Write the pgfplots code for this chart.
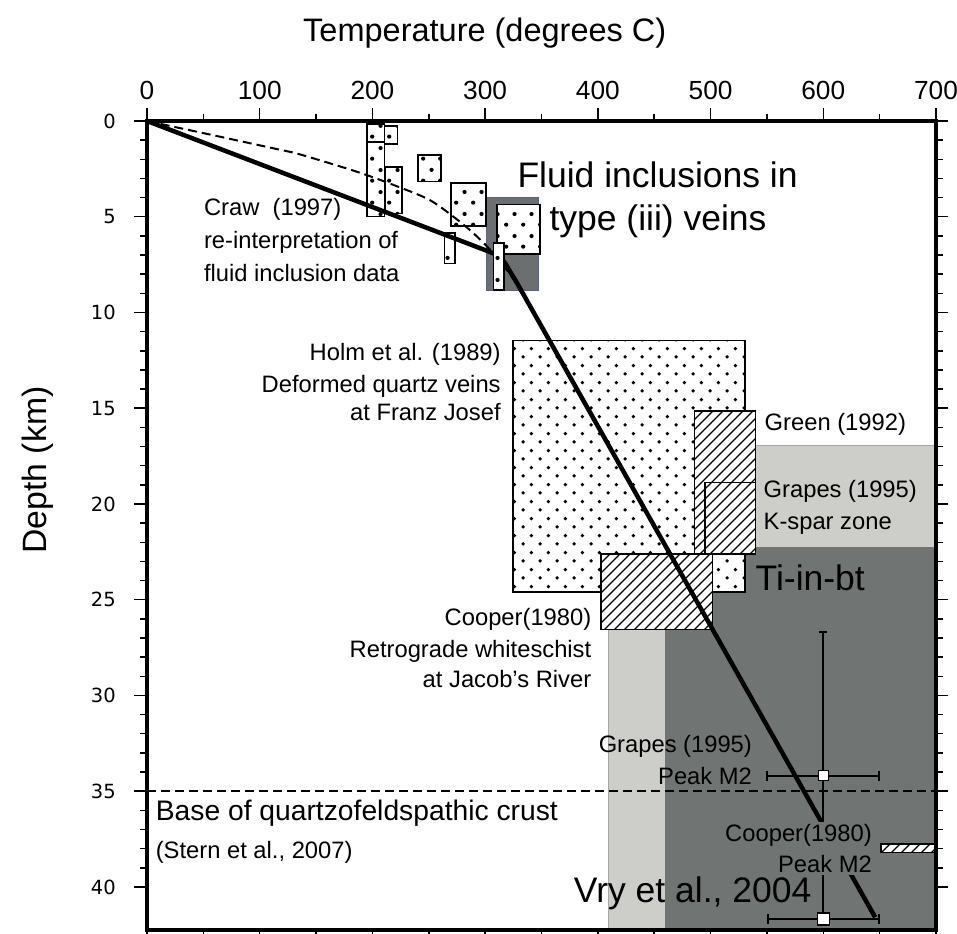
\documentclass[border=0pt]{standalone}
\usepackage{pgfplots}
\pgfplotsset{compat=1.18}
\usepackage{fontspec}
\setmainfont{Liberation Sans}
\newfontfamily\dejavu{DejaVu Sans}
\usetikzlibrary{patterns}
\definecolor{dkgray}{RGB}{112,117,115}
\definecolor{ltgray}{RGB}{205,206,202}
\definecolor{flgray}{RGB}{108,111,112}
\definecolor{flborder}{RGB}{95,95,130}

\pgfdeclarepatternformonly{mydots}{\pgfpointorigin}{\pgfqpoint{6.7pt}{6.7pt}}{\pgfqpoint{6.7pt}{6.7pt}}{%
  \pgfpathcircle{\pgfqpoint{1.675pt}{1.675pt}}{0.75pt}%
  \pgfpathcircle{\pgfqpoint{5.025pt}{5.025pt}}{0.75pt}%
  \pgfusepath{fill}}
\pgfdeclarepatternformonly{bigdots}{\pgfpointorigin}{\pgfqpoint{6.7pt}{8.8pt}}{\pgfqpoint{6.7pt}{8.8pt}}{%
  \pgfpathcircle{\pgfqpoint{1.675pt}{2.2pt}}{0.85pt}%
  \pgfpathcircle{\pgfqpoint{5.025pt}{6.6pt}}{0.85pt}%
  \pgfusepath{fill}}
\pgfdeclarepatternformonly{hatch}{\pgfqpoint{-1pt}{-1pt}}{\pgfqpoint{5pt}{5pt}}{\pgfqpoint{4pt}{4pt}}{%
  \pgfsetlinewidth{0.45pt}%
  \pgfpathmoveto{\pgfqpoint{0pt}{0pt}}%
  \pgfpathlineto{\pgfqpoint{4.1pt}{4.1pt}}%
  \pgfusepath{stroke}}

\newcommand{\rect}[5]{\addplot[#1] coordinates {(#2,#3) (#4,#3) (#4,#5) (#2,#5)} -- cycle;}
\newcommand{\seg}[4]{\addplot[black, line width=0.8pt] coordinates {(#1,#2) (#3,#4)};}

\tikzset{
  ann/.style={inner sep=0pt, text height=0.72em, text depth=0pt, font=\fontsize{9.5}{11}\selectfont},
  big/.style={inner sep=0pt, text height=0.72em, text depth=0pt, font=\fontsize{14.2}{17}\selectfont},
  dotbox/.style={draw=black, line width=0.6pt, fill=white, postaction={pattern=bigdots}},
}

\begin{document}
\begin{tikzpicture}
\useasboundingbox (-58.8pt,-1.6pt) rectangle (324pt,372pt);
\begin{axis}[
  at={(0,0)}, anchor=south west,
  scale only axis, width=315.6pt, height=323.6pt,
  xmin=0, xmax=700, ymin=0, ymax=42.25, y dir=reverse,
  xtick={0,100,...,700}, minor x tick num=1,
  ytick={0,5,...,40}, minor y tick num=4,
  xtick pos=both, ytick pos=both,
  xticklabel pos=right, yticklabel pos=left,
  tick align=outside,
  major tick length=5pt, minor tick length=2.8pt,
  axis line style={line width=1.6pt},
  every tick/.style={black, line width=0.6pt},
  axis on top,
  xticklabel style={font=\fontsize{10.5}{12}\selectfont},
  yticklabel style={font=\dejavu\fontsize{7.8}{9}\selectfont, xshift=-4pt},
  /pgf/number format/assume math mode=true,
  clip=false,
]
% background zones
\rect{fill=ltgray, draw=gray!70, line width=0.4pt}{535}{16.96}{700}{22.26}
\rect{fill=ltgray, draw=gray!70, line width=0.4pt}{409.4}{25}{459.6}{42.25}
\rect{fill=dkgray, draw=none}{459.6}{22.26}{700}{42.25}
% Holm et al. box
\rect{draw=black, line width=0.6pt, fill=white, postaction={pattern=mydots}}{324.6}{11.47}{530.6}{24.61}
% Green (1992)
\rect{draw=black, line width=0.6pt, fill=white, postaction={pattern=hatch}}{485.6}{15.14}{539.7}{22.61}
% Grapes K-spar
\rect{draw=black, line width=0.6pt}{495.1}{18.89}{539.7}{22.61}
% Cooper (1980)
\rect{draw=black, line width=0.6pt, fill=white, postaction={pattern=hatch}}{402.6}{22.61}{501.6}{26.56}
% fluid inclusion grey box
\rect{fill=flgray, draw=flborder, line width=0.5pt}{300.9}{3.98}{347.3}{8.86}
% fluid inclusion boxes
\rect{dotbox}{204.5}{0.26}{222.2}{1.2}
\rect{dotbox}{195.1}{0.16}{210.7}{1.11}
\rect{dotbox}{195.1}{1.11}{210.7}{5.0}
\rect{dotbox}{211.3}{2.39}{226.4}{4.82}
\rect{dotbox}{240.3}{1.78}{260.7}{3.17}
\rect{dotbox}{269.6}{3.25}{300.9}{5.48}
\rect{dotbox}{263.9}{5.85}{273.1}{7.43}
\rect{dotbox}{310.4}{4.35}{348.8}{6.95}
% small hatched box at right
\rect{draw=black, line width=0.6pt, fill=white, postaction={pattern=hatch}}{651}{37.75}{700}{38.2}
% dashed geotherm
\addplot[black, line width=0.8pt, dash pattern=on 3.6pt off 2pt, smooth] coordinates {
  (0,0) (23.6,0.30) (60,0.76) (112.3,1.43) (136,1.75) (186.2,2.65) (218.7,3.34)
  (250,4.1) (271.9,5.0) (289.6,5.86) (307.4,6.91) (322,8.0) (338,9.5)};
% base of quartzofeldspathic crust
\addplot[black, line width=0.8pt, dash pattern=on 3.6pt off 2pt] coordinates {(0,35) (700,35)};
% thick geotherm
\addplot[black, line width=1.8pt, line join=round] coordinates {
  (0,0) (303,6.81) (309,6.96) (314,7.13) (318,7.45) (322,7.85) (327,8.33) (646,41.58)};
% narrow box on top of the line
\rect{dotbox}{307.4}{6.36}{316.9}{8.83}
% error bar: Grapes (1995) Peak M2
\seg{550.5}{34.19}{649.5}{34.19}
\seg{550.5}{33.93}{550.5}{34.45}
\seg{649.5}{33.93}{649.5}{34.45}
\seg{600}{26.7}{600}{41.67}
\seg{596.5}{26.7}{603.5}{26.7}
\addplot[only marks, mark=square*, mark size=2pt, mark options={fill=white, draw=black, line width=0.6pt}]
  coordinates {(600,34.19)};
% error bar: Cooper (1980) Peak M2
\seg{551}{41.67}{649}{41.67}
\seg{551}{41.41}{551}{41.93}
\seg{649}{41.41}{649}{41.93}
\seg{600}{39.0}{600}{41.67}
\addplot[only marks, mark=square*, mark size=2.4pt, mark options={fill=white, draw=black, line width=0.6pt}]
  coordinates {(600,41.67)};
% texts
\node[big, anchor=center] at (axis cs:453,2.98) {Fluid inclusions in};
\node[big, anchor=center] at (axis cs:453.4,5.27) {type (iii) veins};
\node[ann, anchor=west] at (axis cs:50.2,4.49) {Craw\ \ (1997)};
\node[ann, anchor=west] at (axis cs:50.2,6.21) {re-interpretation of};
\node[ann, anchor=west] at (axis cs:50.2,7.89) {fluid inclusion data};
\node[ann, anchor=east] at (axis cs:314.2,12.05) {Holm et al. (1989)};
\node[ann, anchor=east] at (axis cs:314.2,13.7) {Deformed quartz veins};
\node[ann, anchor=east] at (axis cs:314.2,15.18) {at Franz Josef};
\node[ann, anchor=west] at (axis cs:547.6,15.7) {Green (1992)};
\node[ann, anchor=west] at (axis cs:546.7,19.18) {Grapes (1995)};
\node[ann, anchor=west] at (axis cs:546.7,20.84) {K-spar zone};
\node[big, anchor=west] at (axis cs:539.6,24.06) {Ti-in-bt};
\node[ann, anchor=east] at (axis cs:394.6,25.88) {Cooper(1980)};
\node[ann, anchor=east] at (axis cs:394.6,27.54) {Retrograde whiteschist};
\node[ann, anchor=east] at (axis cs:394.6,29.1) {at Jacob's River};
\node[ann, anchor=east] at (axis cs:537.1,32.53) {Grapes (1995)};
\node[ann, anchor=east] at (axis cs:537.1,34.19) {Peak M2};
\node[inner sep=1pt, fill=dkgray, anchor=north east, align=right,
  font=\fontsize{9.5}{12.4}\selectfont] at (axis cs:645.7,36.57) {Cooper(1980)\\Peak M2};
\node[big, anchor=west] at (axis cs:378.3,40.33) {Vry et al., 2004};
\node[inner sep=0pt, text height=0.72em, text depth=0pt, font=\fontsize{11.3}{13}\selectfont, anchor=west]
  at (axis cs:7.4,36.07) {Base of quartzofeldspathic crust};
\node[ann, anchor=west] at (axis cs:7.4,38.07) {(Stern et al., 2007)};
\end{axis}
\node[font=\fontsize{13}{15}\selectfont] at (135.1pt,358.8pt) {Temperature (degrees C)};
\node[font=\fontsize{13.5}{15}\selectfont, rotate=90] at (-43.5pt,184pt) {Depth (km)};
\end{tikzpicture}
\end{document}
